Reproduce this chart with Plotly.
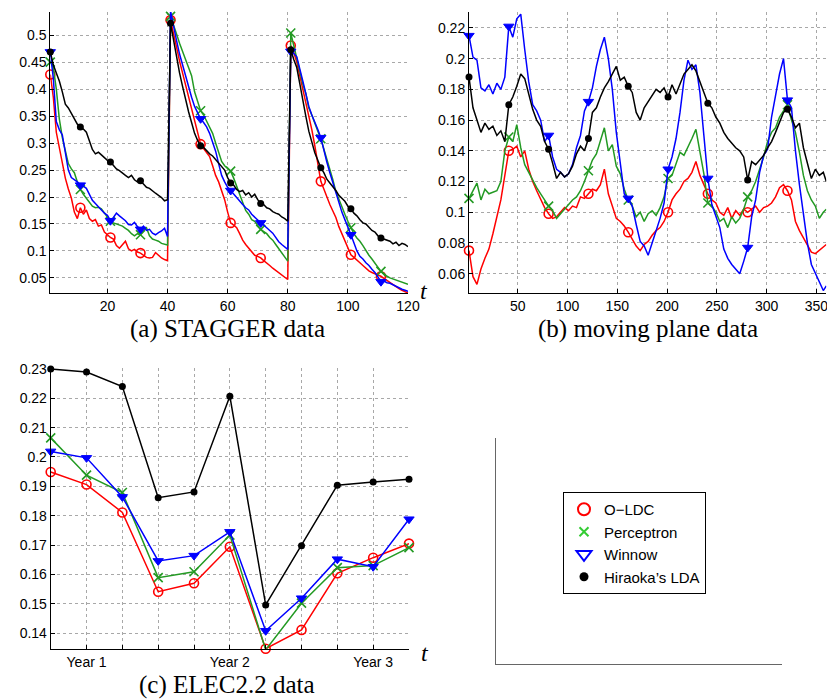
import plotly.graph_objects as go

# ---------------- data ----------------
series_names = ["O\u2212LDC", "Perceptron", "Winnow", "Hiraoka\u2019s LDA"]

# (a) STAGGER data, t = 1..120
stagger_t = list(range(1, 121))
stagger_oldc = [0.427,0.385,0.320,0.290,0.265,0.235,0.215,0.198,0.172,0.160,
                0.180,0.168,0.176,0.160,0.155,0.158,0.146,0.148,0.135,0.130,
                0.125,0.122,0.110,0.105,0.112,0.118,0.104,0.100,0.103,0.098,
                0.096,0.092,0.088,0.087,0.088,0.097,0.092,0.087,0.084,0.082,
                0.528,0.505,0.478,0.452,0.430,0.405,0.385,0.365,0.342,0.320,
                0.298,0.290,0.283,0.275,0.258,0.240,0.228,0.210,0.195,0.172,
                0.152,0.148,0.143,0.132,0.120,0.112,0.105,0.097,0.092,0.090,
                0.087,0.082,0.078,0.073,0.068,0.064,0.060,0.055,0.052,0.047,
                0.481,0.468,0.450,0.425,0.398,0.375,0.352,0.325,0.295,0.262,
                0.229,0.215,0.200,0.186,0.174,0.162,0.145,0.132,0.118,0.105,
                0.093,0.088,0.082,0.078,0.073,0.068,0.063,0.060,0.058,0.055,
                0.053,0.049,0.045,0.041,0.037,0.034,0.030,0.027,0.024,0.022]
stagger_perc = [0.450,0.440,0.400,0.345,0.310,0.285,0.262,0.252,0.245,0.228,
                0.214,0.205,0.198,0.192,0.183,0.180,0.181,0.178,0.170,0.162,
                0.155,0.152,0.150,0.148,0.146,0.142,0.138,0.132,0.128,0.132,
                0.130,0.138,0.143,0.128,0.122,0.120,0.118,0.114,0.112,0.111,
                0.535,0.520,0.502,0.485,0.468,0.455,0.440,0.425,0.395,0.375,
                0.360,0.352,0.340,0.330,0.318,0.300,0.282,0.266,0.258,0.252,
                0.248,0.235,0.220,0.205,0.190,0.175,0.168,0.158,0.155,0.148,
                0.140,0.136,0.132,0.125,0.120,0.112,0.104,0.098,0.090,0.081,
                0.504,0.480,0.455,0.432,0.410,0.392,0.365,0.352,0.335,0.322,
                0.308,0.290,0.268,0.250,0.232,0.210,0.195,0.182,0.168,0.155,
                0.143,0.132,0.124,0.118,0.110,0.100,0.092,0.085,0.078,0.070,
                0.062,0.058,0.053,0.050,0.048,0.046,0.044,0.042,0.040,0.038]
stagger_winnow = [0.469,0.420,0.340,0.325,0.315,0.285,0.250,0.236,0.232,0.228,
                  0.222,0.220,0.216,0.205,0.194,0.188,0.182,0.174,0.170,0.166,
                  0.156,0.162,0.170,0.165,0.160,0.156,0.149,0.148,0.153,0.145,
                  0.140,0.146,0.138,0.140,0.133,0.130,0.134,0.137,0.142,0.127,
                  0.545,0.515,0.490,0.465,0.445,0.425,0.402,0.385,0.368,0.355,
                  0.345,0.338,0.330,0.318,0.302,0.285,0.262,0.240,0.228,0.218,
                  0.212,0.205,0.200,0.192,0.186,0.180,0.176,0.168,0.162,0.158,
                  0.152,0.148,0.142,0.138,0.133,0.125,0.117,0.112,0.108,0.103,
                  0.470,0.466,0.460,0.440,0.415,0.392,0.368,0.352,0.340,0.325,
                  0.310,0.285,0.265,0.245,0.226,0.208,0.190,0.172,0.158,0.142,
                  0.130,0.115,0.100,0.090,0.085,0.078,0.073,0.066,0.060,0.052,
                  0.043,0.044,0.041,0.040,0.037,0.035,0.032,0.029,0.027,0.025]
stagger_hiraoka = [0.469,0.445,0.430,0.415,0.395,0.372,0.365,0.355,0.345,0.335,
                   0.330,0.326,0.320,0.305,0.288,0.280,0.283,0.278,0.272,0.268,
                   0.265,0.258,0.252,0.249,0.244,0.240,0.236,0.240,0.232,0.228,
                   0.230,0.224,0.218,0.216,0.211,0.207,0.203,0.199,0.193,0.195,
                   0.522,0.490,0.458,0.430,0.405,0.380,0.358,0.338,0.318,0.305,
                   0.295,0.292,0.285,0.280,0.276,0.270,0.264,0.258,0.250,0.236,
                   0.226,0.222,0.214,0.210,0.212,0.204,0.208,0.200,0.205,0.195,
                   0.188,0.186,0.180,0.178,0.173,0.170,0.168,0.163,0.160,0.155,
                   0.473,0.455,0.440,0.410,0.378,0.350,0.322,0.300,0.282,0.268,
                   0.254,0.245,0.233,0.226,0.220,0.212,0.203,0.198,0.192,0.183,
                   0.178,0.170,0.165,0.158,0.152,0.150,0.143,0.138,0.135,0.128,
                   0.124,0.122,0.120,0.118,0.113,0.116,0.110,0.114,0.112,0.108]

# (b) moving plane data, sampled every 4 steps
plane_t = list(range(1, 358, 4)) + [360]
plane_oldc = [0.075,0.058,0.053,0.063,0.070,0.076,0.086,0.098,0.108,0.124,
              0.140,0.141,0.143,0.136,0.140,0.128,0.120,0.114,0.108,0.103,
              0.099,0.096,0.097,0.100,0.103,0.101,0.104,0.103,0.110,0.109,
              0.112,0.115,0.114,0.118,0.128,0.112,0.104,0.096,0.094,0.091,
              0.087,0.082,0.078,0.075,0.079,0.081,0.085,0.088,0.090,0.094,
              0.100,0.108,0.112,0.115,0.120,0.122,0.126,0.133,0.124,0.118,
              0.112,0.108,0.106,0.100,0.098,0.103,0.096,0.101,0.098,0.102,
              0.100,0.102,0.104,0.100,0.103,0.104,0.106,0.110,0.116,0.118,
              0.114,0.108,0.094,0.088,0.083,0.078,0.074,0.073,0.075,0.077,
              0.079]
plane_perc = [0.109,0.114,0.119,0.108,0.115,0.112,0.113,0.114,0.120,0.140,
              0.149,0.146,0.157,0.142,0.131,0.126,0.120,0.116,0.112,0.108,
              0.104,0.101,0.096,0.099,0.102,0.105,0.108,0.110,0.114,0.120,
              0.127,0.134,0.138,0.146,0.155,0.140,0.144,0.130,0.125,0.115,
              0.108,0.104,0.097,0.100,0.094,0.099,0.101,0.098,0.103,0.110,
              0.122,0.124,0.132,0.139,0.137,0.142,0.148,0.154,0.140,0.125,
              0.106,0.104,0.100,0.094,0.096,0.090,0.097,0.093,0.096,0.102,
              0.110,0.114,0.120,0.128,0.136,0.146,0.152,0.155,0.162,0.166,
              0.170,0.160,0.152,0.139,0.124,0.114,0.108,0.104,0.096,0.100,
              0.102]
plane_winnow = [0.215,0.201,0.199,0.181,0.179,0.183,0.177,0.184,0.180,0.188,
                0.221,0.214,0.226,0.229,0.206,0.185,0.170,0.166,0.160,0.146,
                0.150,0.136,0.128,0.126,0.123,0.125,0.131,0.142,0.150,0.166,
                0.172,0.181,0.195,0.206,0.214,0.200,0.180,0.152,0.132,0.112,
                0.109,0.104,0.092,0.081,0.078,0.072,0.080,0.088,0.096,0.106,
                0.128,0.136,0.148,0.165,0.186,0.199,0.193,0.196,0.178,0.150,
                0.122,0.105,0.097,0.090,0.076,0.070,0.066,0.063,0.060,0.068,
                0.077,0.097,0.108,0.126,0.137,0.141,0.162,0.176,0.190,0.200,
                0.173,0.168,0.140,0.118,0.098,0.080,0.066,0.060,0.055,0.049,
                0.052]
plane_hiraoka = [0.188,0.168,0.160,0.152,0.158,0.154,0.156,0.150,0.153,0.146,
                 0.170,0.175,0.182,0.190,0.187,0.176,0.167,0.160,0.156,0.146,
                 0.141,0.132,0.122,0.126,0.123,0.125,0.130,0.138,0.143,0.140,
                 0.148,0.165,0.168,0.175,0.181,0.185,0.190,0.195,0.186,0.188,
                 0.182,0.178,0.165,0.160,0.168,0.172,0.176,0.180,0.178,0.181,
                 0.175,0.183,0.177,0.184,0.190,0.193,0.196,0.192,0.185,0.178,
                 0.171,0.168,0.162,0.158,0.152,0.148,0.145,0.142,0.140,0.136,
                 0.121,0.133,0.131,0.134,0.137,0.142,0.146,0.152,0.158,0.165,
                 0.167,0.162,0.155,0.158,0.142,0.132,0.122,0.128,0.124,0.126,
                 0.120]

# (c) ELEC2.2 data
elec_t = list(range(1, 12))
elec_oldc = [0.1949,0.1906,0.1811,0.1541,0.1570,0.1694,0.1347,0.1411,0.1604,0.1657,0.1705]
elec_perc = [0.2065,0.1938,0.1879,0.1589,0.1609,0.1734,0.1343,0.1502,0.1623,0.1630,0.1691]
elec_winnow = [0.2019,0.1997,0.1864,0.1646,0.1664,0.1745,0.1408,0.1519,0.1652,0.1626,0.1788]
elec_hiraoka = [0.2300,0.2289,0.2240,0.1861,0.1881,0.2207,0.1496,0.1698,0.1904,0.1915,0.1924]

# tick labels
a_xticks = [20, 40, 60, 80, 100, 120]
a_yticks = [0.05, 0.1, 0.15, 0.2, 0.25, 0.3, 0.35, 0.4, 0.45, 0.5]
a_ylabels = ["0.05", "0.1", "0.15", "0.2", "0.25", "0.3", "0.35", "0.4", "0.45", "0.5"]
b_xticks = [50, 100, 150, 200, 250, 300, 350]
b_yticks = [0.06, 0.08, 0.1, 0.12, 0.14, 0.16, 0.18, 0.2, 0.22]
b_ylabels = ["0.06", "0.08", "0.1", "0.12", "0.14", "0.16", "0.18", "0.2", "0.22"]
c_xlabels = ["", "Year 1", "", "", "", "Year 2", "", "", "", "Year 3", ""]
c_yticks = [0.14, 0.15, 0.16, 0.17, 0.18, 0.19, 0.2, 0.21, 0.22, 0.23]
c_ylabels = ["0.14", "0.15", "0.16", "0.17", "0.18", "0.19", "0.2", "0.21", "0.22", "0.23"]

for arr in (stagger_oldc, stagger_perc, stagger_winnow, stagger_hiraoka):
    assert len(arr) == len(stagger_t), len(arr)
for arr in (plane_oldc, plane_perc, plane_winnow, plane_hiraoka):
    assert len(arr) == len(plane_t), len(arr)

# ---------------- style ----------------
W, H = 835, 699
RED, GREEN, BLUE, BLACK = "#ff0000", "#239a23", "#0000ff", "#000000"
colors = [RED, GREEN, BLUE, BLACK]
markers = [
    dict(symbol="circle-open", size=9, color=RED, line=dict(color=RED, width=1.6)),
    dict(symbol="x-thin", size=9, color=GREEN, line=dict(color=GREEN, width=1.6)),
    dict(symbol="triangle-down", size=9, color=BLUE, line=dict(color=BLUE, width=1)),
    dict(symbol="circle", size=7, color=BLACK, line=dict(color=BLACK, width=0)),
]
legend_markers = [
    dict(symbol="circle-open", size=12, color=RED, line=dict(color=RED, width=2)),
    dict(symbol="x-thin", size=9, color="#33cc33", line=dict(color="#33cc33", width=2)),
    dict(symbol="triangle-down-open", size=13, color=BLUE, line=dict(color=BLUE, width=2)),
    dict(symbol="circle", size=9, color=BLACK, line=dict(width=0)),
]

def xd(p):
    return p / W

def yd(p):
    return 1 - p / H

TICKFONT = dict(family="Liberation Sans, Arial, sans-serif", size=14, color="black")

def ax(domain, rng, anchor, **kw):
    d = dict(domain=domain, range=rng, anchor=anchor, showline=True, linecolor="black",
             linewidth=1, ticks="inside", ticklen=4, tickcolor="black", showgrid=True,
             gridcolor="#a8a8a8", griddash="dot", gridwidth=1, zeroline=False,
             tickfont=TICKFONT, automargin=False, mirror=False, fixedrange=True)
    d.update(kw)
    return d

fig = go.Figure()

panels = [
    ("x", "y", stagger_t, [stagger_oldc, stagger_perc, stagger_winnow, stagger_hiraoka], 10, 120),
    ("x2", "y2", plane_t, [plane_oldc, plane_perc, plane_winnow, plane_hiraoka], 10, 90),
]
for xa, ya, tt, ys, step, stop in panels:
    for i, yy in enumerate(ys):
        fig.add_trace(go.Scatter(x=tt, y=yy, mode="lines", xaxis=xa, yaxis=ya,
                                 line=dict(color=colors[i], width=1.5), showlegend=False,
                                 hoverinfo="skip"))
        fig.add_trace(go.Scatter(x=tt[0:stop:step], y=yy[0:stop:step], mode="markers",
                                 xaxis=xa, yaxis=ya, marker=markers[i], showlegend=False,
                                 cliponaxis=False, hoverinfo="skip"))

for i, yy in enumerate([elec_oldc, elec_perc, elec_winnow, elec_hiraoka]):
    fig.add_trace(go.Scatter(x=elec_t, y=yy, mode="lines+markers", xaxis="x3", yaxis="y3",
                             line=dict(color=colors[i], width=1.5), marker=markers[i],
                             showlegend=False, cliponaxis=False, hoverinfo="skip"))

# legend entries (panel d)
for i, name in enumerate(series_names):
    fig.add_trace(go.Scatter(x=[None], y=[None], mode="markers", xaxis="x4", yaxis="y4",
                             name=name, marker=legend_markers[i], showlegend=True))

fig.update_layout(
    width=W, height=H, template="none",
    margin=dict(l=0, r=0, t=0, b=0),
    paper_bgcolor="white", plot_bgcolor="white",
    xaxis=ax([xd(42.3), xd(400)], [1, 120], "y", tickvals=a_xticks),
    yaxis=ax([yd(285), yd(4)], [0.022, 0.543], "x", tickvals=a_yticks, ticktext=a_ylabels),
    xaxis2=ax([xd(461), xd(818.3)], [1, 360], "y2", tickvals=b_xticks),
    yaxis2=ax([yd(285), yd(4)], [0.0474, 0.2304], "x2", tickvals=b_yticks, ticktext=b_ylabels),
    xaxis3=ax([xd(42.7), xd(401)], [1, 11], "y3", tickvals=elec_t, ticktext=c_xlabels),
    yaxis3=ax([yd(640.7), yd(360)], [0.1347, 0.2303], "x3", tickvals=c_yticks, ticktext=c_ylabels),
    xaxis4=dict(domain=[xd(487.7), xd(774)], range=[0, 1], anchor="y4", showline=True,
                linecolor="#666666", linewidth=1, ticks="", showticklabels=False,
                showgrid=False, zeroline=False, fixedrange=True),
    yaxis4=dict(domain=[yd(655.7), yd(430)], range=[0, 1], anchor="x4", showline=True,
                linecolor="#666666", linewidth=1, ticks="", showticklabels=False,
                showgrid=False, zeroline=False, fixedrange=True),
    legend=dict(x=xd(555), y=yd(484), xanchor="left", yanchor="top",
                bgcolor="white", bordercolor="black", borderwidth=1,
                font=dict(family="Liberation Sans, Arial, sans-serif", size=15, color="black"),
                itemclick=False, itemdoubleclick=False),
)

TITLEFONT = dict(family="Liberation Serif, Times New Roman, serif", size=25, color="black")
TFONT = dict(family="Liberation Serif, Times New Roman, serif", size=24, color="black")
annos = [
    ("(a) STAGGER data", 219, 321, TITLEFONT),
    ("(b) moving plane data", 640, 321, TITLEFONT),
    ("(c) ELEC2.2 data", 219, 677, TITLEFONT),
    ("<i>t</i>", 416, 283, TFONT),
    ("<i>t</i>", 824, 283, TFONT),
    ("<i>t</i>", 417, 645, TFONT),
]
for text, px, py, font in annos:
    fig.add_annotation(text=text, x=xd(px), y=yd(py), xref="paper", yref="paper",
                       xanchor="center", yanchor="middle", showarrow=False, font=font)

fig.write_html("out.html")
